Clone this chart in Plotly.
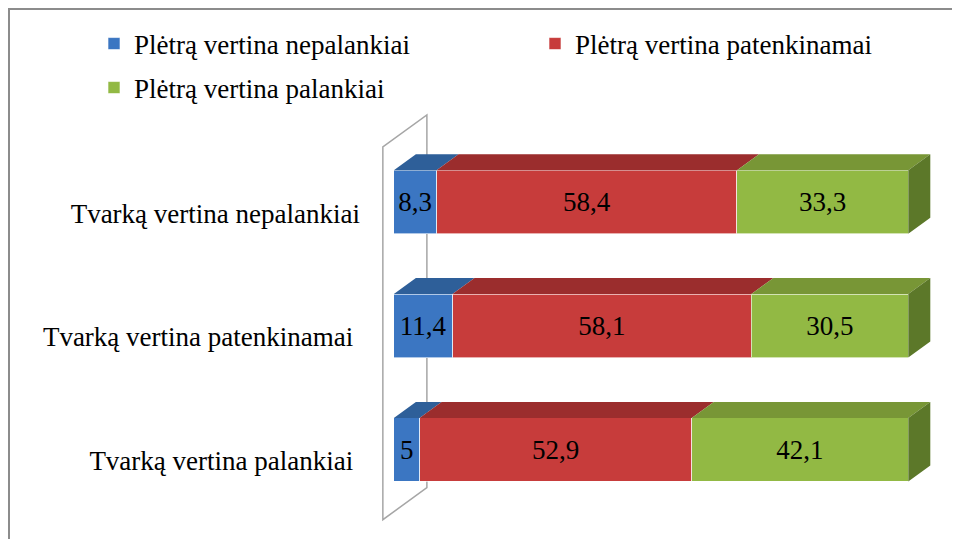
import plotly.graph_objects as go

# ---- data ----
categories = ["Tvarką vertina palankiai", "Tvarką vertina patenkinamai", "Tvarką vertina nepalankiai"]
series_names = ["Plėtrą vertina nepalankiai", "Plėtrą vertina patenkinamai", "Plėtrą vertina palankiai"]
nepalankiai = [5, 11.4, 8.3]
patenkinamai = [52.9, 58.1, 58.4]
palankiai = [42.1, 30.5, 33.3]

series_values = [nepalankiai, patenkinamai, palankiai]
front_colors = ["#3B76C2", "#C73C3B", "#92B944"]
top_colors = ["#2E5F99", "#9B2D2D", "#789636"]
side_color = "#5C7829"

FONT = "Liberation Serif, serif"
FS = 27

# geometry (data units)
BAR_W = 0.513
DX = 4.28   # depth offset along x
DY = 0.129  # depth offset along y

OFF = 8  # page body margin
W, H = 960 - OFF, 539 - OFF
ML, MR, MT, MB = 381 - OFF, 26, 109 - OFF, 15
XR = [-2.5, 105]
YR = [-0.6, 2.75]
LABEL_SHIFT = 0.09  # category labels sit slightly lower than the bar fronts (3D perspective)

def fmt(v):
    return f"{v:g}".replace(".", ",")

ypos = list(range(len(categories)))
# small trailing pad so the labels line up like the original
tick_text = [categories[0] + "\u00a0", categories[1] + "\u00a0", categories[2]]

fig = go.Figure()

# top faces & side face (computed from data)
cum = [0.0] * len(categories)
for si, vals in enumerate(series_values):
    xs, ys = [], []
    for i, v in enumerate(vals):
        x0 = cum[i]
        x1 = cum[i] + v
        yt = ypos[i] + BAR_W / 2
        xs += [x0, x1, x1 + DX, x0 + DX, x0, None]
        ys += [yt, yt, yt + DY, yt + DY, yt, None]
    fig.add_trace(go.Scatter(x=xs, y=ys, mode="lines", fill="toself",
                             fillcolor=top_colors[si], line=dict(width=0, color=top_colors[si]),
                             showlegend=False, hoverinfo="skip"))
    if si == len(series_values) - 1:
        sx, sy = [], []
        for i, v in enumerate(vals):
            xe = cum[i] + v
            yb = ypos[i] - BAR_W / 2
            yt = ypos[i] + BAR_W / 2
            sx += [xe, xe + DX, xe + DX, xe, xe, None]
            sy += [yb, yb + DY, yt + DY, yt, yb, None]
        fig.add_trace(go.Scatter(x=sx, y=sy, mode="lines", fill="toself",
                                 fillcolor=side_color, line=dict(width=0, color=side_color),
                                 showlegend=False, hoverinfo="skip"))
    cum = [c + v for c, v in zip(cum, vals)]

# front faces
for si, (name, vals) in enumerate(zip(series_names, series_values)):
    fig.add_trace(go.Bar(
        y=ypos, x=vals, orientation="h", name=name, width=BAR_W,
        marker=dict(color=front_colors[si], line=dict(color="rgba(255,255,255,0.6)", width=1)),
        text=[fmt(v) for v in vals], textposition="inside", insidetextanchor="middle",
        textangle=0, textfont=dict(family=FONT, size=FS, color="black"),
        legend="legend" if si < 2 else "legend2",
        hoverinfo="x+name",
    ))

# invisible carrier trace for the category-label axis
fig.add_trace(go.Scatter(x=[None], y=[None], yaxis="y2", showlegend=False, hoverinfo="skip"))

# back wall (3D axis wall)
wx0 = -DX / 2
wx1 = wx0 + 2 * DX
wy0, wy1 = -0.565, 2.444
wall_path = (f"M{wx0},{wy0} L{wx0},{wy1} L{wx1},{wy1 + 2*DY} "
             f"L{wx1},{wy0 + 2*DY} Z")
fig.add_shape(type="path", path=wall_path, xref="x", yref="y", layer="below",
              line=dict(color="#A6A6A6", width=1.5), fillcolor="white")

pw = W - ML - MR
ph = H - MT - MB

def paper_x(px):
    return (px - OFF - ML) / pw

def paper_y(py):
    return (H - MB - (py - OFF)) / ph

# outer frame
fig.add_shape(type="rect", xref="paper", yref="paper",
              x0=paper_x(9), x1=paper_x(1000), y0=paper_y(600), y1=paper_y(9),
              line=dict(color="#8C8C8C", width=2), fillcolor="rgba(0,0,0,0)", layer="below")

fig.update_layout(
    width=W, height=H,
    margin=dict(l=ML, r=MR, t=MT, b=MB, autoexpand=False),
    paper_bgcolor="white", plot_bgcolor="white",
    barmode="stack",
    font=dict(family=FONT, size=FS, color="black"),
    separators=", ",
    xaxis=dict(range=XR, visible=False, fixedrange=True, automargin=False),
    yaxis=dict(range=YR, tickvals=ypos, showticklabels=False, showgrid=False,
               zeroline=False, showline=False, ticks="", automargin=False, fixedrange=True),
    yaxis2=dict(range=[YR[0] + LABEL_SHIFT, YR[1] + LABEL_SHIFT], overlaying="y", side="left",
                tickvals=ypos, ticktext=tick_text, showgrid=False, zeroline=False,
                showline=False, ticks="", ticklabelstandoff=20, automargin=False,
                tickfont=dict(family=FONT, size=FS, color="black"), fixedrange=True),
    legend=dict(orientation="h", x=paper_x(94), xanchor="left", y=paper_y(44), yanchor="middle",
                entrywidth=396, entrywidthmode="pixels", bgcolor="rgba(0,0,0,0)",
                font=dict(family=FONT, size=FS, color="black"), traceorder="normal"),
    legend2=dict(orientation="h", x=paper_x(94), xanchor="left", y=paper_y(88), yanchor="middle",
                 bgcolor="rgba(0,0,0,0)", font=dict(family=FONT, size=FS, color="black")),
    showlegend=True,
)

fig.write_html("out.html")
